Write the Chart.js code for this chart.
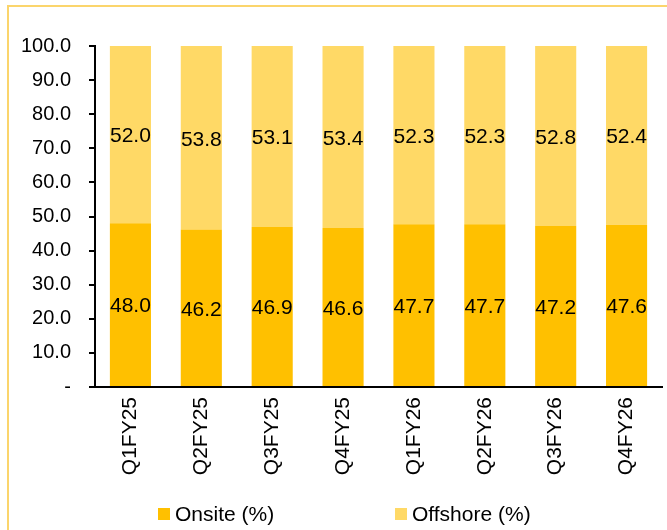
<!DOCTYPE html>
<html>
<head>
<meta charset="utf-8">
<script src="https://cdn.jsdelivr.net/npm/chart.js@4.4.1/dist/chart.umd.min.js"></script>
<style>
  body { margin: 0; background: #fff; font-family: "Liberation Sans", Arial, sans-serif; }
  #wrap { position: relative; width: 667px; height: 530px; overflow: hidden; }
  #frame { position: absolute; left: 7px; top: 5px; width: 700px; height: 600px;
           border-top: 2px solid #FBD56C; border-left: 2px solid #FBD56C; }
  canvas { position: absolute; left: 0; top: 0; }
  #legend { position: absolute; top: 502px; left: 0; width: 667px; font-size: 21px; color: #000; }
  .item { position: absolute; top: 0; display: flex; align-items: center; }
  .box { width: 12px; height: 12px; margin-right: 5px; }
</style>
</head>
<body>
<div id="wrap">
  <div id="frame"></div>
  <canvas id="mixChart" width="667" height="530"></canvas>
  <div id="legend"></div>
</div>
<script>
const quarters = ['Q1FY25', 'Q2FY25', 'Q3FY25', 'Q4FY25', 'Q1FY26', 'Q2FY26', 'Q3FY26', 'Q4FY26'];
const onsite = [48.0, 46.2, 46.9, 46.6, 47.7, 47.7, 47.2, 47.6];
const offshore = [52.0, 53.8, 53.1, 53.4, 52.3, 52.3, 52.8, 52.4];
const yTicks = [0, 10, 20, 30, 40, 50, 60, 70, 80, 90, 100];

const colOnsite = '#FFC000';
const colOffshore = '#FFD966';

// values written in the middle of each segment
const segmentLabels = {
    id: 'segmentLabels',
    afterDatasetsDraw(chart) {
        const ctx = chart.ctx;
        ctx.save();
        ctx.font = '21px "Liberation Sans", Arial, sans-serif';
        ctx.fillStyle = '#000';
        ctx.textAlign = 'center';
        ctx.textBaseline = 'middle';
        chart.data.datasets.forEach((ds, i) => {
            chart.getDatasetMeta(i).data.forEach((bar, j) => {
                ctx.fillText(ds.data[j].toFixed(1), bar.x, (bar.y + bar.base) / 2 + 2);
            });
        });
        ctx.restore();
    }
};

const ctx = document.getElementById('mixChart').getContext('2d');
const chart = new Chart(ctx, {
    type: 'bar',
    data: {
        labels: quarters,
        datasets: [
            { label: 'Onsite (%)', data: onsite, backgroundColor: colOnsite },
            { label: 'Offshore (%)', data: offshore, backgroundColor: colOffshore }
        ]
    },
    options: {
        responsive: false,
        animation: false,
        layout: { padding: { top: 46, right: 5, left: 0, bottom: 0 } },
        datasets: { bar: { barPercentage: 0.58, categoryPercentage: 1 } },
        scales: {
            x: {
                stacked: true,
                grid: { display: false, drawTicks: false },
                border: { color: '#000', width: 2 },
                ticks: {
                    color: '#000', minRotation: 90, maxRotation: 90, padding: 10,
                    font: { family: '"Liberation Sans", Arial, sans-serif', size: 21 }
                },
                afterFit: (s) => { s.height = 143; s.paddingLeft = 0; s.paddingRight = 0; }
            },
            y: {
                stacked: true,
                min: 0, max: 100,
                afterBuildTicks: (s) => { s.ticks = yTicks.map(v => ({ value: v })); },
                grid: { drawOnChartArea: false, tickLength: 6, color: '#000', lineWidth: 2 },
                border: { color: '#000', width: 2 },
                ticks: {
                    color: '#000', padding: 18,
                    font: { family: '"Liberation Sans", Arial, sans-serif', size: 20 },
                    callback: (v) => v === 0 ? '-' : v.toFixed(1)
                },
                afterFit: (s) => { s.width = 95; }
            }
        },
        plugins: {
            legend: { display: false },
            tooltip: { enabled: false }
        }
    },
    plugins: [segmentLabels]
});

// legend below the axis
const legendPos = [158, 395];
const legend = document.getElementById('legend');
chart.data.datasets.forEach((ds, i) => {
    const item = document.createElement('div');
    item.className = 'item';
    item.style.left = legendPos[i] + 'px';
    item.innerHTML = '<span class="box" style="background:' + ds.backgroundColor + '"></span><span>' + ds.label + '</span>';
    legend.appendChild(item);
});
</script>
</body>
</html>
